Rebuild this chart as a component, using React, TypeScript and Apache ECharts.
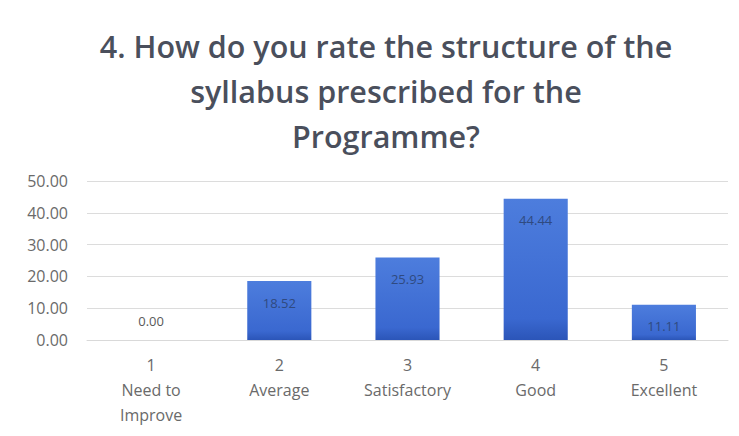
import React, { useEffect, useRef } from "react";
import * as echarts from "echarts";

const titleText = "4. How do you rate the structure of the\nsyllabus prescribed for the\nProgramme?";
const categories = ["1\nNeed to\nImprove", "2\nAverage", "3\nSatisfactory", "4\nGood", "5\nExcellent"];
const values = [0.0, 18.52, 25.93, 44.44, 11.11];
const yTicks = { min: 0, max: 50, interval: 10 };

export default function App() {
  const ref = useRef<HTMLDivElement>(null);
  useEffect(() => {
    if (!ref.current) return;
    const chart = echarts.init(ref.current, null, { renderer: "svg" });
    const font = "'Open Sans', 'Noto Sans', sans-serif";
    chart.setOption({
      animation: false,
      backgroundColor: "#ffffff",
      textStyle: { fontFamily: font },
      title: {
        text: titleText,
        left: 381,
        textAlign: "center",
        top: 18,
        textStyle: {
          fontFamily: font,
          fontWeight: 600,
          fontSize: 30.5,
          lineHeight: 45,
          color: "#4a4f5c",
        },
      },
      graphic: [
        {
          type: "rect",
          shape: { x: 6.5, y: 6.5, width: 740, height: 440 },
          style: { fill: "none", stroke: "#d6d6d6", lineWidth: 1 },
          silent: true,
        },
      ],
      grid: { left: 87, right: 11, top: 181, bottom: 96, containLabel: false },
      xAxis: {
        type: "category",
        data: categories,
        axisLine: { show: true, lineStyle: { color: "#d9d9d9" } },
        axisTick: { show: false },
        axisLabel: {
          color: "#6a6a6a",
          fontSize: 16,
          lineHeight: 25,
          margin: 12,
          interval: 0,
        },
      },
      yAxis: {
        type: "value",
        min: yTicks.min,
        max: yTicks.max,
        interval: yTicks.interval,
        axisLine: { show: false },
        axisTick: { show: false },
        splitLine: { lineStyle: { color: "#dcdcdc" } },
        axisLabel: {
          color: "#6a6a6a",
          fontSize: 16,
          margin: 19,
          formatter: (v: number) => v.toFixed(2),
        },
      },
      series: [
        {
          type: "bar",
          barWidth: "50%",
          data: values.map((v) =>
            v === 0
              ? {
                  value: v,
                  label: { position: "top", distance: 13, color: "#595959" },
                }
              : { value: v }
          ),
          itemStyle: {
            color: new echarts.graphic.LinearGradient(0, 0, 0, 1, [
              { offset: 0, color: "#4d7ddd" },
              { offset: 0.85, color: "#3a68d0" },
              { offset: 1, color: "#2b55b8" },
            ]),
          },
          label: {
            show: true,
            position: "insideTop",
            distance: 15,
            color: "#2f4a80",
            fontSize: 13,
            formatter: (p: any) => Number(p.value).toFixed(2),
          },
        },
      ],
    });
    return () => chart.dispose();
  }, []);
  return <div ref={ref} style={{ width: 739, height: 436, margin: -8 }} />;
}
